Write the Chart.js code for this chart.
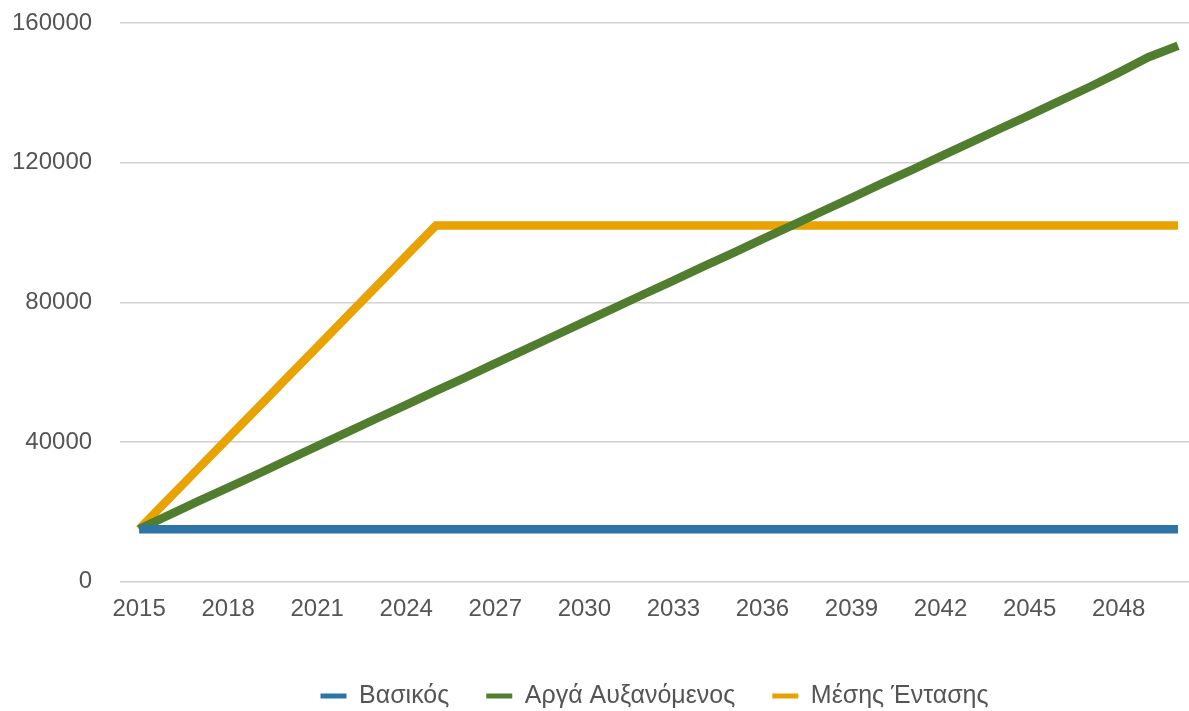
<!DOCTYPE html>
<html>
<head>
<meta charset="utf-8">
<script src="https://cdn.jsdelivr.net/npm/chart.js@4/dist/chart.umd.min.js"></script>
<style>
  html, body { margin: 0; padding: 0; background: #ffffff; }
  #wrap { width: 1189px; height: 711px; position: relative; }
</style>
</head>
<body>
<div id="wrap"><canvas id="c"></canvas></div>
<script>
const years = [2015, 2016, 2017, 2018, 2019, 2020, 2021, 2022, 2023, 2024, 2025, 2026,
               2027, 2028, 2029, 2030, 2031, 2032, 2033, 2034, 2035, 2036, 2037, 2038,
               2039, 2040, 2041, 2042, 2043, 2044, 2045, 2046, 2047, 2048, 2049, 2050];
const xTickYears = [2015, 2018, 2021, 2024, 2027, 2030, 2033, 2036, 2039, 2042, 2045, 2048];
const yTickValues = [0, 40000, 80000, 120000, 160000];
const seriesNames = ["Βασικός", "Αργά Αυξανόμενος", "Μέσης Έντασης"];

const basic = [15000, 15000, 15000, 15000, 15000, 15000, 15000, 15000, 15000, 15000, 15000, 15000,
               15000, 15000, 15000, 15000, 15000, 15000, 15000, 15000, 15000, 15000, 15000, 15000,
               15000, 15000, 15000, 15000, 15000, 15000, 15000, 15000, 15000, 15000, 15000, 15000];
const slowGrowth = [15000, 19000, 23000, 26900, 30800, 34800, 38800, 42700, 46700, 50600, 54600, 58500,
                    62500, 66400, 70400, 74400, 78300, 82300, 86200, 90200, 94100, 98100, 102000, 106000,
                    109900, 113900, 117800, 121800, 125700, 129700, 133600, 137600, 141600, 145800, 150200, 153500];
const medium = [15000, 23700, 32400, 41100, 49800, 58500, 67200, 75900, 84600, 93300, 102000, 102000,
                102000, 102000, 102000, 102000, 102000, 102000, 102000, 102000, 102000, 102000, 102000, 102000,
                102000, 102000, 102000, 102000, 102000, 102000, 102000, 102000, 102000, 102000, 102000, 102000];

const colors = ["#2e74a6", "#517d2e", "#e8a302"];
const FONT = "'Liberation Sans', Arial, Helvetica, sans-serif";

function toPoints(vals) { return years.map((yr, i) => ({ x: yr, y: vals[i] })); }

const datasets = [basic, slowGrowth, medium].map((vals, i) => ({
  label: seriesNames[i],
  data: toPoints(vals),
  borderColor: colors[i],
  backgroundColor: colors[i],
  borderWidth: 8.5,
  pointRadius: 0,
  pointHoverRadius: 0,
  tension: 0,
  borderCapStyle: 'butt',
  fill: false
}));

new Chart(document.getElementById('c'), {
  type: 'line',
  data: { datasets },
  options: {
    responsive: true,
    maintainAspectRatio: false,
    animation: false,
    layout: { padding: { left: -16, right: 0, top: 23, bottom: -7.5 } },
    plugins: {
      tooltip: { enabled: false },
      legend: {
        position: 'bottom',
        fullSize: false,
        labels: {
          font: { family: FONT, size: 25 },
          color: '#555555',
          boxWidth: 26,
          boxHeight: 5,
          padding: 37,
          generateLabels(chart) {
            return chart.data.datasets.map((ds, i) => ({
              text: ds.label,
              fillStyle: ds.borderColor,
              strokeStyle: ds.borderColor,
              lineWidth: 0,
              hidden: false,
              datasetIndex: i,
              fontColor: '#555555'
            }));
          }
        }
      }
    },
    scales: {
      x: {
        type: 'linear',
        min: 2014.36,
        max: 2050.37,
        grid: { display: false, drawTicks: false },
        border: { display: false },
        afterBuildTicks(scale) { scale.ticks = xTickYears.map(v => ({ value: v })); },
        afterFit(scale) { scale.height = 65; },
        ticks: {
          autoSkip: false,
          maxRotation: 0,
          padding: 13,
          color: '#555555',
          font: { family: FONT, size: 24 },
          callback: (v) => String(v)
        }
      },
      y: {
        min: 0,
        max: 160000,
        grid: { color: '#d0d0d0', lineWidth: 1.5, drawTicks: false },
        border: { display: false },
        afterBuildTicks(scale) { scale.ticks = yTickValues.map(v => ({ value: v })); },
        afterFit(scale) { scale.paddingTop = 0; scale.paddingBottom = 0; },
        ticks: {
          padding: 28,
          color: '#555555',
          font: { family: FONT, size: 24 },
          callback: (v) => String(v)
        }
      }
    }
  }
});
</script>
</body>
</html>
